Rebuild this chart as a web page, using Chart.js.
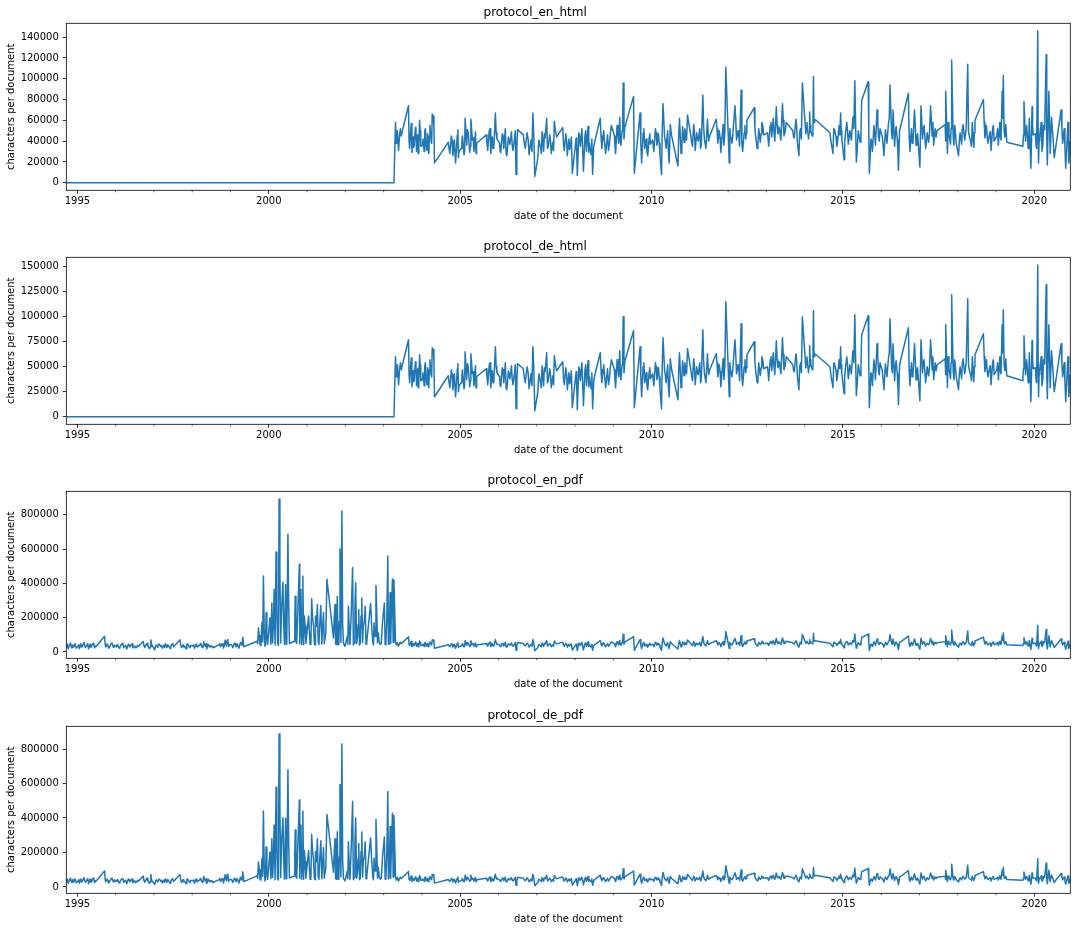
<!DOCTYPE html>
<html>
<head>
<meta charset="utf-8">
<title>characters per document</title>
<script src="https://cdn.jsdelivr.net/npm/chart.js@4.4.0/dist/chart.umd.min.js"></script>
<style>
  html, body { margin: 0; padding: 0; background: #fff; overflow: hidden; }
  #wrap { position: relative; width: 1077px; height: 931px; overflow: hidden; }
  #wrap canvas { position: absolute; left: 0; }
</style>
</head>
<body>
<div id="wrap">
  <canvas id="c0" width="1077" height="234" style="top:0px"></canvas>
  <canvas id="c1" width="1077" height="234" style="top:234.4px"></canvas>
  <canvas id="c2" width="1077" height="234" style="top:468.4px"></canvas>
  <canvas id="c3" width="1077" height="234" style="top:703.4px"></canvas>
</div>
<script>
// document dates as decimal years
// pdf only (the html text is empty before spring 2003)
const preDates = [
  1994.71, 1994.73, 1994.76, 1994.79, 1994.82, 1994.85, 1994.88, 1994.91, 1994.94, 1994.97,
  1995.02, 1995.05, 1995.09, 1995.13, 1995.17, 1995.21, 1995.25, 1995.29, 1995.33, 1995.37, 1995.41, 1995.45, 1995.49, 1995.71, 1995.74, 1995.78, 1995.82, 1995.86, 1995.90, 1995.94, 1995.97,
  1996.01, 1996.05, 1996.09, 1996.13, 1996.17, 1996.21, 1996.25, 1996.29, 1996.33, 1996.37, 1996.41, 1996.45, 1996.50, 1996.55, 1996.59, 1996.72, 1996.76, 1996.80, 1996.84, 1996.88, 1996.92, 1996.95,
  1997.02, 1997.06, 1997.10, 1997.14, 1997.18, 1997.22, 1997.26, 1997.30, 1997.34, 1997.38, 1997.42, 1997.46, 1997.51, 1997.68, 1997.72, 1997.76, 1997.80, 1997.84, 1997.88, 1997.92, 1997.96,
  1998.02, 1998.06, 1998.10, 1998.14, 1998.18, 1998.22, 1998.26, 1998.30, 1998.34, 1998.38, 1998.42, 1998.46, 1998.50, 1998.54, 1998.70, 1998.74, 1998.78, 1998.82, 1998.86, 1998.89, 1998.93, 1998.97,
  1999.02, 1999.06, 1999.10, 1999.14, 1999.18, 1999.22, 1999.26, 1999.30, 1999.32, 1999.35, 1999.69, 1999.73, 1999.77, 1999.82, 1999.86, 1999.90, 1999.93, 1999.97,
  2000.03, 2000.08, 2000.10, 2000.14, 2000.19, 2000.23, 2000.27, 2000.31, 2000.37, 2000.41, 2000.44, 2000.47, 2000.50, 2000.54, 2000.67, 2000.69, 2000.73, 2000.80, 2000.82, 2000.84, 2000.86, 2000.89, 2000.93, 2000.97,
  2001.04, 2001.08, 2001.12, 2001.17, 2001.19, 2001.22, 2001.27, 2001.31, 2001.36, 2001.41, 2001.45, 2001.52, 2001.69, 2001.73, 2001.76, 2001.79, 2001.83, 2001.86, 2001.91, 2001.95, 2001.99,
  2002.05, 2002.08, 2002.12, 2002.19, 2002.23, 2002.27, 2002.32, 2002.35, 2002.39, 2002.43, 2002.47, 2002.52, 2002.56, 2002.66, 2002.72, 2002.75, 2002.80, 2002.84, 2002.86, 2002.91, 2002.97,
  2003.02, 2003.06, 2003.11, 2003.14, 2003.17, 2003.20, 2003.23, 2003.27
];
// more pdf-only sittings, same period
const preExtraDates = [
  1994.745, 1994.805, 1994.865, 1994.925,
  1995.035, 1995.11, 1995.19, 1995.27, 1995.35, 1995.43, 1995.475, 1995.725, 1995.80, 1995.88, 1995.955,
  1996.03, 1996.11, 1996.19, 1996.27, 1996.35, 1996.43, 1996.525, 1996.57, 1996.74, 1996.82, 1996.90, 1996.935,
  1997.04, 1997.12, 1997.20, 1997.28, 1997.36, 1997.44, 1997.49, 1997.70, 1997.78, 1997.86, 1997.94,
  1998.04, 1998.12, 1998.20, 1998.28, 1998.36, 1998.44, 1998.52, 1998.72, 1998.80, 1998.875, 1998.95,
  1999.04, 1999.12, 1999.20, 1999.28, 1999.71, 1999.75, 1999.795, 1999.84, 1999.88, 1999.915, 1999.95,
  2000.055, 2000.12, 2000.165, 2000.21, 2000.25, 2000.29, 2000.34, 2000.39, 2000.455, 2000.52, 2000.68, 2000.71, 2000.765, 2000.81, 2000.875, 2000.91, 2000.95,
  2001.06, 2001.10, 2001.145, 2001.21, 2001.245, 2001.29, 2001.335, 2001.385, 2001.43, 2001.49, 2001.71, 2001.745, 2001.775, 2001.81, 2001.845, 2001.885, 2001.93, 2001.97,
  2002.065, 2002.10, 2002.155, 2002.21, 2002.25, 2002.295, 2002.335, 2002.37, 2002.41, 2002.45, 2002.495, 2002.54, 2002.69, 2002.735, 2002.775, 2002.82, 2002.885, 2002.94,
  2003.04, 2003.085, 2003.125, 2003.155, 2003.185, 2003.215, 2003.25
];
// shared by all four series
const dates = [
  2003.31, 2003.33, 2003.36, 2003.39, 2003.42, 2003.46, 2003.65, 2003.68, 2003.71, 2003.74, 2003.77, 2003.80, 2003.83, 2003.86, 2003.89, 2003.92, 2003.94, 2003.97,
  2004.03, 2004.06, 2004.09, 2004.12, 2004.15, 2004.18, 2004.21, 2004.24, 2004.27, 2004.30, 2004.33, 2004.69, 2004.73, 2004.77, 2004.81, 2004.85, 2004.88, 2004.91, 2004.94, 2004.97,
  2005.03, 2005.06, 2005.10, 2005.13, 2005.17, 2005.21, 2005.25, 2005.28, 2005.32, 2005.36, 2005.40, 2005.43, 2005.68, 2005.72, 2005.76, 2005.80, 2005.84, 2005.88, 2005.92, 2005.96,
  2006.03, 2006.06, 2006.10, 2006.14, 2006.18, 2006.22, 2006.26, 2006.30, 2006.34, 2006.38, 2006.42, 2006.46, 2006.50, 2006.65, 2006.70, 2006.75, 2006.80, 2006.85, 2006.90, 2006.95,
  2007.03, 2007.06, 2007.10, 2007.14, 2007.18, 2007.22, 2007.26, 2007.30, 2007.34, 2007.38, 2007.42, 2007.46, 2007.52, 2007.68, 2007.72, 2007.76, 2007.80, 2007.84, 2007.88, 2007.93,
  2008.03, 2008.06, 2008.10, 2008.14, 2008.18, 2008.22, 2008.26, 2008.30, 2008.34, 2008.38, 2008.42, 2008.46, 2008.52, 2008.66, 2008.70, 2008.75, 2008.80, 2008.85, 2008.90, 2008.95,
  2009.03, 2009.06, 2009.10, 2009.14, 2009.17, 2009.20, 2009.23, 2009.26, 2009.30, 2009.53, 2009.55, 2009.70, 2009.74, 2009.78, 2009.82, 2009.86, 2009.90, 2009.94, 2009.97,
  2010.03, 2010.06, 2010.10, 2010.14, 2010.18, 2010.22, 2010.26, 2010.30, 2010.34, 2010.38, 2010.42, 2010.46, 2010.52, 2010.69, 2010.73, 2010.77, 2010.81, 2010.85, 2010.89, 2010.94,
  2011.03, 2011.07, 2011.10, 2011.14, 2011.18, 2011.22, 2011.26, 2011.30, 2011.34, 2011.38, 2011.42, 2011.46, 2011.52, 2011.69, 2011.73, 2011.77, 2011.81, 2011.85, 2011.89, 2011.94,
  2012.03, 2012.06, 2012.10, 2012.14, 2012.18, 2012.22, 2012.26, 2012.30, 2012.34, 2012.38, 2012.42, 2012.46, 2012.49, 2012.68, 2012.72, 2012.76, 2012.80, 2012.84, 2012.88, 2012.93,
  2013.03, 2013.06, 2013.10, 2013.14, 2013.18, 2013.22, 2013.26, 2013.30, 2013.34, 2013.38, 2013.42, 2013.46, 2013.52, 2013.69, 2013.73, 2013.77, 2013.81, 2013.85, 2013.89, 2013.94,
  2014.03, 2014.06, 2014.10, 2014.13, 2014.16, 2014.20, 2014.23, 2014.26, 2014.30, 2014.66, 2014.70, 2014.74, 2014.78, 2014.82, 2014.86, 2014.90, 2014.94, 2014.97,
  2015.03, 2015.06, 2015.10, 2015.14, 2015.18, 2015.22, 2015.26, 2015.31, 2015.35, 2015.40, 2015.45, 2015.49, 2015.66, 2015.69, 2015.73, 2015.77, 2015.81, 2015.85, 2015.89, 2015.93, 2015.97,
  2016.03, 2016.07, 2016.11, 2016.15, 2016.19, 2016.23, 2016.27, 2016.31, 2016.35, 2016.39, 2016.42, 2016.45, 2016.48, 2016.71, 2016.75, 2016.79, 2016.83, 2016.87, 2016.91, 2016.95,
  2017.01, 2017.04, 2017.08, 2017.12, 2017.16, 2017.20, 2017.24, 2017.29, 2017.33, 2017.37, 2017.41, 2017.46, 2017.67, 2017.69, 2017.73, 2017.77, 2017.81, 2017.84, 2017.88, 2017.92, 2017.96,
  2018.02, 2018.06, 2018.10, 2018.14, 2018.18, 2018.22, 2018.26, 2018.30, 2018.34, 2018.38, 2018.42, 2018.45, 2018.67, 2018.71, 2018.75, 2018.79, 2018.83, 2018.87, 2018.91, 2018.95,
  2019.02, 2019.06, 2019.10, 2019.13, 2019.16, 2019.19, 2019.23, 2019.28, 2019.70, 2019.73, 2019.77, 2019.80, 2019.84, 2019.87, 2019.91, 2019.94, 2019.97,
  2020.03, 2020.06, 2020.09, 2020.11, 2020.14, 2020.18, 2020.22, 2020.27, 2020.31, 2020.34, 2020.38, 2020.45, 2020.52, 2020.70, 2020.74, 2020.78, 2020.82, 2020.86, 2020.90, 2020.94
];
// further sittings of the same sessions, shared by all four series
const extraDates = [
  2003.345, 2003.44, 2003.665, 2003.725, 2003.785, 2003.845, 2003.905, 2003.955,
  2004.015, 2004.075, 2004.135, 2004.195, 2004.255, 2004.315, 2004.71, 2004.79, 2004.865, 2004.925, 2004.955,
  2005.045, 2005.115, 2005.19, 2005.265, 2005.34, 2005.415, 2005.70, 2005.78, 2005.86, 2005.94,
  2006.045, 2006.12, 2006.20, 2006.28, 2006.36, 2006.44, 2006.48, 2006.675, 2006.775, 2006.875, 2006.925,
  2007.045, 2007.12, 2007.20, 2007.28, 2007.36, 2007.44, 2007.49, 2007.70, 2007.78, 2007.86, 2007.905,
  2008.045, 2008.12, 2008.20, 2008.28, 2008.36, 2008.44, 2008.49, 2008.68, 2008.775, 2008.875, 2008.925,
  2009.045, 2009.12, 2009.185, 2009.245, 2009.28, 2009.72, 2009.80, 2009.88, 2009.955,
  2010.045, 2010.12, 2010.20, 2010.28, 2010.36, 2010.44, 2010.49, 2010.71, 2010.79, 2010.87, 2010.915,
  2011.05, 2011.12, 2011.20, 2011.28, 2011.36, 2011.44, 2011.49, 2011.71, 2011.79, 2011.87, 2011.915,
  2012.045, 2012.12, 2012.20, 2012.28, 2012.36, 2012.44, 2012.475, 2012.70, 2012.78, 2012.86, 2012.905,
  2013.045, 2013.12, 2013.20, 2013.28, 2013.36, 2013.44, 2013.49, 2013.71, 2013.79, 2013.87, 2013.915,
  2014.045, 2014.115, 2014.145, 2014.215, 2014.245, 2014.68, 2014.76, 2014.84, 2014.92, 2014.955,
  2015.045, 2015.12, 2015.20, 2015.285, 2015.375, 2015.47, 2015.675, 2015.75, 2015.83, 2015.91, 2015.95,
  2016.05, 2016.13, 2016.21, 2016.29, 2016.37, 2016.435, 2016.73, 2016.81, 2016.89, 2016.93,
  2017.025, 2017.10, 2017.18, 2017.265, 2017.35, 2017.435, 2017.68, 2017.75, 2017.825, 2017.90, 2017.94,
  2018.04, 2018.12, 2018.20, 2018.28, 2018.36, 2018.435, 2018.69, 2018.77, 2018.85, 2018.93,
  2019.04, 2019.115, 2019.175, 2019.21, 2019.255, 2019.715, 2019.785, 2019.855, 2019.925, 2019.955,
  2020.045, 2020.10, 2020.125, 2020.20, 2020.245, 2020.325, 2020.415, 2020.485, 2020.72, 2020.80, 2020.88, 2020.925
];

// values in thousands of characters per document
const htmlPre = [0, 0]; // first and last pre-2003 date: no html text yet

const enHtml = [
  58, 38, 50, 31, 47, 45, 74, 33, 51, 29, 44, 36, 53, 30, 46, 38, 60, 35,
  42, 30, 52, 34, 47, 28, 55, 40, 66, 64, 19, 39, 28, 45, 26, 41, 19, 37, 51, 30,
  33, 45, 27, 62, 36, 48, 29, 61, 41, 30, 49, 38, 46, 31, 50, 28, 44, 35, 67, 42,
  38, 29, 47, 33, 52, 26, 44, 37, 49, 31, 42, 8, 51, 46, 33, 48, 27, 41, 67, 6,
  24, 41, 33, 49, 30, 43, 62, 35, 46, 28, 39, 59, 44, 53, 31, 47, 26, 42, 36, 9,
  43, 7, 48, 35, 52, 11, 45, 30, 54, 38, 27, 8, 40, 62, 33, 50, 28, 46, 37, 55,
  45, 28, 55, 38, 63, 36, 50, 96, 53, 83, 9, 67, 19, 48, 33, 42, 26, 44, 37,
  41, 30, 52, 36, 47, 27, 8, 76, 44, 33, 50, 19, 46, 16, 62, 28, 54, 39, 47, 65,
  44, 35, 56, 31, 48, 40, 52, 37, 84, 42, 33, 61, 45, 61, 38, 50, 29, 47, 36, 111,
  19, 46, 38, 55, 74, 41, 50, 35, 89, 30, 48, 42, 60, 72, 44, 33, 52, 39, 58, 46,
  48, 35, 55, 44, 62, 40, 73, 47, 53, 41, 76, 45, 58, 50, 43, 61, 39, 26, 52, 96,
  47, 58, 42, 68, 50, 45, 102, 61, 60, 48, 37, 28, 51, 44, 39, 55, 67, 42,
  22, 45, 58, 37, 50, 41, 63, 98, 20, 50, 39, 79, 97, 9, 42, 30, 55, 36, 70, 44, 52,
  44, 26, 51, 38, 57, 94, 48, 70, 35, 54, 41, 12, 50, 86, 30, 52, 40, 70, 36, 47,
  15, 74, 42, 55, 33, 48, 39, 74, 45, 36, 52, 50, 56, 88, 28, 47, 37, 118, 44, 55, 38,
  26, 48, 37, 56, 41, 52, 114, 45, 39, 58, 34, 60, 80, 43, 55, 38, 47, 31, 52, 40,
  45, 36, 58, 41, 88, 103, 44, 39, 35, 78, 40, 55, 33, 62, 14, 73, 46,
  47, 33, 146, 19, 42, 58, 36, 51, 123, 17, 88, 63, 24, 70, 38, 52, 14, 44, 19, 40
];
const enHtmlExtra = [
  44, 52, 40, 57, 34, 49, 28, 50,
  36, 49, 31, 45, 38, 52, 33, 40, 29, 46, 24,
  39, 30, 51, 35, 43, 28, 38, 52, 33, 48,
  30, 45, 28, 40, 36, 50, 34, 38, 42, 30, 45,
  36, 28, 47, 33, 40, 31, 50, 37, 41, 32, 44,
  30, 45, 33, 50, 29, 42, 35, 45, 38, 31, 48,
  35, 48, 40, 58, 42, 38, 52, 30, 47,
  35, 48, 38, 52, 40, 30, 56, 45, 33, 52, 41,
  38, 50, 42, 33, 55, 46, 40, 52, 43, 56, 48,
  52, 44, 60, 45, 38, 55, 47, 53, 38, 47, 55,
  42, 58, 48, 55, 46, 60, 49, 44, 55, 48, 42,
  52, 48, 55, 47, 58, 42, 52, 35, 46, 50,
  38, 50, 45, 52, 33, 48, 52, 40, 47, 58, 40,
  36, 45, 62, 42, 48, 30, 45, 38, 55, 44,
  45, 52, 38, 50, 58, 44, 40, 58, 52, 36, 48,
  40, 52, 46, 50, 35, 48, 58, 44, 49, 55,
  52, 44, 62, 50, 56, 46, 52, 42, 38, 55,
  36, 52, 40, 30, 55, 42, 28, 45, 52, 34, 58, 30
];

const deHtml = [
  60, 40, 52, 32, 49, 47, 77, 34, 53, 30, 46, 37, 55, 31, 48, 40, 62, 36,
  44, 31, 54, 35, 49, 29, 57, 42, 69, 67, 20, 41, 29, 47, 27, 43, 20, 38, 53, 31,
  34, 47, 28, 65, 37, 50, 30, 63, 43, 31, 51, 40, 48, 32, 52, 29, 46, 36, 70, 44,
  40, 30, 49, 34, 54, 27, 46, 38, 51, 32, 44, 8, 53, 48, 34, 50, 28, 43, 70, 6,
  25, 43, 34, 51, 31, 45, 64, 36, 48, 29, 41, 61, 46, 55, 32, 49, 27, 44, 37, 9,
  45, 7, 50, 36, 54, 11, 47, 31, 56, 40, 28, 8, 42, 64, 34, 52, 29, 48, 38, 57,
  47, 29, 57, 40, 66, 37, 52, 100, 55, 86, 9, 70, 20, 50, 34, 44, 27, 46, 38,
  43, 31, 54, 37, 49, 28, 8, 79, 46, 34, 52, 20, 48, 17, 64, 29, 56, 41, 49, 68,
  46, 36, 58, 32, 50, 42, 54, 38, 87, 44, 34, 63, 47, 63, 40, 52, 30, 49, 37, 115,
  20, 48, 40, 57, 77, 43, 52, 36, 93, 31, 50, 44, 62, 75, 46, 34, 54, 41, 60, 48,
  50, 36, 57, 46, 64, 42, 76, 49, 55, 43, 79, 47, 60, 52, 45, 63, 41, 27, 54, 100,
  49, 60, 44, 71, 52, 47, 106, 63, 62, 50, 38, 29, 53, 46, 41, 57, 70, 44,
  23, 47, 60, 38, 52, 43, 66, 102, 21, 52, 41, 82, 101, 9, 44, 31, 57, 37, 73, 46, 54,
  46, 27, 53, 40, 59, 98, 50, 73, 36, 56, 43, 12, 52, 89, 31, 54, 42, 73, 37, 49,
  16, 77, 44, 57, 34, 50, 41, 77, 47, 37, 54, 52, 58, 92, 29, 49, 38, 122, 46, 57, 40,
  27, 50, 38, 58, 43, 54, 118, 47, 41, 60, 35, 62, 83, 45, 57, 40, 49, 32, 54, 42,
  47, 37, 60, 43, 92, 107, 46, 41, 36, 81, 42, 57, 34, 64, 15, 76, 48,
  49, 34, 152, 20, 44, 60, 37, 53, 132, 18, 92, 66, 25, 73, 40, 54, 15, 46, 20, 42
];
const deHtmlExtra = [
  46, 54, 42, 59, 35, 51, 29, 52,
  37, 51, 32, 47, 40, 54, 34, 42, 30, 48, 25,
  41, 31, 53, 36, 45, 29, 40, 54, 34, 50,
  31, 47, 29, 42, 37, 52, 35, 40, 44, 31, 47,
  37, 29, 49, 34, 42, 32, 52, 38, 43, 33, 46,
  31, 47, 34, 52, 30, 44, 36, 47, 40, 32, 50,
  36, 50, 42, 60, 44, 40, 54, 31, 49,
  36, 50, 40, 54, 42, 31, 58, 47, 34, 54, 43,
  40, 52, 44, 34, 57, 48, 42, 54, 45, 58, 50,
  54, 46, 62, 47, 40, 57, 49, 55, 40, 49, 57,
  44, 60, 50, 57, 48, 62, 51, 46, 57, 50, 44,
  54, 50, 57, 49, 60, 44, 54, 36, 48, 52,
  40, 52, 47, 54, 34, 50, 54, 42, 49, 60, 42,
  37, 47, 64, 44, 50, 31, 47, 40, 57, 46,
  47, 54, 40, 52, 60, 46, 42, 60, 54, 37, 50,
  42, 54, 48, 52, 36, 50, 60, 46, 51, 57,
  54, 46, 64, 52, 58, 48, 54, 44, 40, 57,
  37, 54, 42, 31, 57, 44, 29, 47, 54, 35, 60, 31
];

const enPdfPre = [
  28, 45, 19, 38, 52, 24, 41, 30, 48, 22,
  35, 20, 47, 31, 55, 26, 40, 18, 44, 33, 50, 24, 32, 91, 29, 46, 21, 38, 53, 27, 40,
  30, 43, 22, 36, 49, 25, 38, 17, 45, 29, 41, 23, 34, 27, 32, 61, 26, 44, 35, 19, 70, 38,
  12, 40, 27, 46, 31, 22, 39, 48, 26, 35, 20, 42, 30, 70, 25, 41, 33, 18, 47, 29, 37,
  34, 21, 45, 29, 38, 50, 26, 58, 33, 19, 44, 28, 36, 24, 41, 30, 47, 22, 68, 35, 72, 40,
  43, 25, 51, 30, 46, 22, 55, 38, 86, 30, 62, 140, 43, 170, 443, 33, 228, 43,
  199, 286, 52, 364, 583, 52, 893, 52, 407, 43, 394, 52, 686, 49, 62, 325, 49, 511, 170, 364, 43, 443, 209, 49,
  209, 43, 310, 150, 49, 209, 277, 43, 271, 154, 49, 424, 82, 277, 43, 325, 52, 600, 822, 52, 33,
  90, 267, 43, 492, 52, 404, 90, 248, 52, 315, 150, 267, 60, 282, 52, 170, 388, 52, 111, 43, 170,
  286, 49, 559, 62, 345, 209, 425, 420
];
const enPdfPreExtra = [
  36, 47, 26, 39,
  42, 28, 38, 49, 26, 41, 35, 45, 33, 47, 30,
  37, 27, 44, 31, 40, 47, 24, 38, 35, 50, 28, 45,
  33, 45, 38, 26, 42, 31, 49, 38, 28, 43, 24,
  40, 32, 44, 27, 47, 36, 30, 49, 38, 52, 31,
  36, 48, 33, 45, 48, 95, 38, 60, 120, 45, 88,
  45, 150, 40, 240, 38, 470, 280, 160, 45, 260, 180, 60, 290, 48, 120, 42, 150,
  120, 46, 200, 40, 150, 60, 180, 45, 230, 110, 200, 48, 140, 42, 180, 55, 160, 40,
  45, 140, 230, 40, 260, 48, 160, 40, 210, 55, 180, 45, 140, 40, 90, 240, 60, 50,
  42, 200, 45, 160, 48, 300, 55
];
const enPdf = [
  62, 41, 54, 34, 50, 48, 88, 36, 55, 31, 47, 39, 57, 33, 49, 41, 64, 38,
  45, 32, 56, 36, 50, 30, 59, 43, 71, 68, 21, 42, 30, 48, 28, 44, 21, 40, 55, 32,
  35, 48, 29, 66, 39, 51, 31, 65, 44, 32, 52, 41, 49, 33, 54, 30, 47, 37, 72, 45,
  41, 31, 50, 35, 56, 28, 47, 40, 52, 33, 45, 9, 55, 49, 35, 51, 29, 44, 72, 7,
  26, 44, 35, 52, 32, 46, 66, 37, 49, 30, 42, 63, 47, 57, 33, 50, 28, 45, 39, 10,
  46, 8, 51, 37, 56, 12, 48, 32, 58, 41, 29, 9, 43, 66, 35, 54, 30, 49, 40, 59,
  48, 30, 59, 41, 67, 39, 54, 103, 57, 89, 10, 72, 20, 51, 35, 45, 28, 47, 40,
  44, 32, 56, 39, 50, 29, 9, 81, 47, 35, 54, 20, 49, 17, 66, 30, 58, 42, 50, 70,
  47, 37, 60, 33, 51, 43, 56, 40, 90, 45, 35, 65, 48, 65, 41, 54, 31, 50, 39, 119,
  20, 49, 41, 59, 79, 44, 54, 37, 95, 32, 51, 45, 64, 77, 47, 35, 56, 42, 62, 49,
  51, 37, 59, 47, 66, 43, 78, 50, 57, 44, 81, 48, 62, 54, 46, 65, 42, 28, 56, 103,
  50, 62, 45, 73, 54, 48, 109, 65, 64, 51, 40, 30, 55, 47, 42, 59, 72, 45,
  24, 48, 62, 40, 54, 44, 67, 105, 21, 54, 42, 85, 104, 10, 45, 32, 59, 39, 75, 47, 56,
  47, 28, 55, 41, 61, 101, 51, 75, 37, 58, 44, 13, 54, 92, 32, 56, 43, 75, 39, 50,
  16, 79, 45, 59, 35, 51, 42, 79, 48, 39, 56, 54, 60, 94, 30, 50, 40, 128, 47, 59, 41,
  28, 51, 40, 60, 44, 56, 122, 48, 42, 62, 36, 64, 86, 46, 59, 41, 50, 33, 56, 43,
  48, 39, 62, 44, 94, 110, 47, 42, 37, 83, 43, 59, 35, 66, 15, 78, 49,
  50, 35, 156, 20, 45, 62, 39, 55, 131, 18, 94, 67, 26, 75, 41, 56, 15, 47, 20, 43
];
const enPdfExtra = [
  47, 56, 43, 61, 36, 52, 30, 54,
  38, 52, 33, 48, 41, 56, 35, 43, 31, 49, 26,
  42, 32, 55, 37, 46, 30, 41, 56, 35, 51,
  32, 48, 30, 43, 38, 54, 36, 41, 45, 32, 48,
  38, 30, 50, 35, 43, 33, 54, 40, 44, 34, 47,
  32, 48, 35, 54, 31, 45, 37, 48, 41, 33, 51,
  37, 51, 43, 62, 45, 41, 56, 32, 50,
  37, 51, 41, 56, 43, 32, 60, 48, 35, 56, 44,
  41, 54, 45, 35, 59, 49, 43, 56, 46, 60, 51,
  56, 47, 64, 48, 41, 59, 50, 57, 41, 50, 59,
  45, 62, 51, 59, 49, 64, 52, 47, 59, 51, 45,
  56, 51, 59, 50, 62, 45, 56, 37, 49, 54,
  41, 54, 48, 56, 35, 51, 56, 43, 50, 62, 43,
  39, 48, 66, 45, 51, 32, 48, 41, 59, 47,
  48, 56, 41, 54, 62, 47, 43, 62, 56, 39, 51,
  43, 56, 49, 54, 37, 51, 62, 47, 52, 59,
  56, 47, 66, 54, 60, 49, 56, 45, 41, 59,
  39, 56, 43, 32, 59, 45, 30, 48, 56, 36, 62, 32
];

const dePdfPre = [
  30, 44, 20, 39, 50, 25, 43, 29, 47, 24,
  36, 22, 46, 33, 54, 27, 42, 19, 45, 31, 51, 25, 34, 93, 30, 45, 22, 40, 52, 28, 41,
  31, 42, 23, 38, 48, 26, 39, 18, 46, 30, 40, 24, 35, 28, 33, 63, 27, 45, 36, 20, 72, 37,
  13, 41, 28, 45, 32, 23, 40, 47, 27, 36, 21, 43, 31, 72, 26, 42, 34, 19, 46, 30, 38,
  35, 22, 46, 30, 39, 49, 27, 60, 34, 20, 45, 29, 37, 25, 42, 31, 48, 23, 70, 36, 74, 41,
  44, 26, 50, 31, 47, 23, 56, 39, 88, 31, 64, 145, 44, 165, 440, 35, 232, 44,
  203, 280, 55, 360, 578, 50, 888, 54, 402, 45, 398, 50, 680, 52, 64, 330, 51, 505, 175, 360, 45, 440, 212, 51,
  212, 45, 305, 155, 51, 205, 280, 45, 268, 150, 51, 420, 85, 280, 45, 320, 54, 595, 830, 50, 35,
  92, 262, 45, 497, 54, 400, 93, 252, 50, 318, 147, 262, 62, 285, 54, 168, 392, 50, 114, 45, 168,
  290, 51, 553, 64, 350, 205, 428, 415
];
const dePdfPreExtra = [
  37, 46, 27, 40,
  43, 29, 39, 48, 27, 42, 36, 46, 34, 46, 31,
  38, 28, 45, 32, 41, 46, 25, 39, 36, 51, 29, 44,
  34, 44, 39, 27, 43, 32, 48, 39, 29, 44, 25,
  41, 33, 45, 28, 46, 37, 31, 50, 39, 54, 32,
  37, 47, 34, 46, 50, 98, 40, 62, 118, 47, 90,
  47, 155, 42, 235, 40, 465, 285, 158, 47, 255, 185, 62, 285, 50, 118, 44, 148,
  118, 48, 205, 42, 148, 62, 175, 47, 228, 112, 205, 50, 138, 44, 178, 57, 158, 42,
  47, 138, 235, 42, 255, 50, 165, 42, 205, 57, 178, 47, 145, 42, 92, 238, 62, 52,
  44, 205, 47, 158, 50, 295, 57
];
const dePdf = [
  64, 40, 56, 35, 51, 47, 90, 37, 56, 32, 48, 40, 58, 34, 50, 42, 66, 39,
  46, 33, 57, 37, 52, 31, 60, 44, 73, 70, 22, 43, 31, 49, 29, 45, 22, 41, 57, 33,
  36, 49, 30, 68, 40, 52, 32, 67, 45, 33, 54, 42, 50, 34, 55, 31, 48, 38, 74, 46,
  42, 32, 52, 36, 57, 29, 48, 41, 54, 34, 46, 9, 56, 50, 36, 52, 30, 45, 74, 7,
  27, 45, 36, 54, 33, 47, 68, 38, 50, 31, 43, 65, 48, 58, 34, 52, 29, 46, 40, 10,
  47, 8, 53, 38, 57, 12, 49, 33, 60, 42, 30, 9, 44, 68, 36, 55, 31, 50, 41, 61,
  49, 31, 61, 42, 69, 40, 55, 106, 58, 92, 10, 74, 21, 53, 36, 46, 29, 48, 41,
  45, 33, 57, 40, 52, 30, 9, 84, 48, 36, 55, 21, 50, 18, 68, 31, 60, 43, 52, 72,
  48, 38, 62, 34, 53, 44, 57, 41, 93, 46, 36, 67, 50, 67, 42, 55, 32, 52, 40, 123,
  21, 50, 42, 61, 82, 45, 55, 38, 98, 33, 53, 46, 66, 80, 48, 36, 58, 43, 64, 51,
  53, 38, 61, 48, 68, 44, 80, 52, 59, 45, 84, 50, 64, 55, 47, 67, 43, 29, 58, 106,
  52, 64, 46, 75, 55, 50, 112, 67, 66, 53, 41, 31, 57, 48, 43, 61, 74, 46,
  25, 50, 64, 41, 55, 45, 69, 108, 22, 55, 43, 87, 107, 10, 46, 33, 61, 40, 77, 48, 58,
  48, 29, 57, 42, 63, 104, 53, 77, 38, 60, 45, 13, 56, 95, 33, 58, 44, 77, 40, 52,
  17, 81, 46, 61, 36, 53, 43, 81, 50, 40, 58, 56, 62, 97, 31, 52, 41, 132, 48, 61, 42,
  29, 53, 41, 62, 45, 58, 126, 50, 43, 64, 37, 66, 89, 47, 61, 42, 52, 34, 58, 44,
  50, 40, 64, 45, 97, 114, 49, 43, 38, 86, 44, 61, 36, 68, 16, 81, 51,
  52, 36, 163, 21, 47, 64, 40, 57, 138, 19, 97, 69, 27, 78, 42, 58, 16, 49, 21, 44
];
const dePdfExtra = [
  48, 57, 44, 63, 37, 53, 31, 55,
  39, 54, 34, 49, 42, 57, 36, 44, 32, 50, 27,
  43, 33, 56, 38, 47, 31, 42, 57, 36, 52,
  33, 49, 31, 44, 39, 55, 37, 42, 46, 33, 49,
  39, 31, 52, 36, 44, 34, 55, 41, 45, 35, 48,
  33, 49, 36, 55, 32, 46, 38, 49, 42, 34, 52,
  38, 52, 44, 64, 46, 42, 57, 33, 51,
  38, 52, 42, 57, 44, 33, 62, 49, 36, 57, 45,
  42, 55, 46, 36, 60, 50, 44, 57, 47, 62, 52,
  57, 48, 66, 49, 42, 60, 51, 58, 42, 51, 60,
  46, 64, 52, 60, 50, 66, 53, 48, 60, 52, 46,
  57, 52, 60, 51, 64, 46, 57, 38, 50, 55,
  42, 55, 49, 57, 36, 52, 57, 44, 51, 64, 44,
  40, 49, 68, 46, 52, 33, 49, 42, 60, 48,
  49, 57, 42, 55, 64, 48, 44, 64, 57, 40, 52,
  44, 57, 50, 55, 38, 52, 64, 48, 53, 60,
  57, 48, 68, 55, 62, 50, 57, 46, 42, 60,
  40, 57, 44, 33, 60, 46, 31, 49, 57, 37, 64, 33
];

const titles = ["protocol_en_html", "protocol_de_html", "protocol_en_pdf", "protocol_de_pdf"];
const yearTicks = [1995, 2000, 2005, 2010, 2015, 2020];
const enHtmlTicks = [0, 20000, 40000, 60000, 80000, 100000, 120000, 140000];
const deHtmlTicks = [0, 25000, 50000, 75000, 100000, 125000, 150000];
const pdfTicks = [0, 200000, 400000, 600000, 800000];

const UNIT = 1000;

Chart.defaults.font.family = "'DejaVu Sans', sans-serif";
Chart.defaults.font.size = 10;
Chart.defaults.color = "#000";

function toPoints(xs, ys) {
  if (xs.length !== ys.length) console.warn("length mismatch", xs.length, ys.length);
  return xs.map((x, i) => ({ x: x, y: ys[i] * UNIT }));
}

function series() {
  const all = [].concat(...arguments);
  return all.sort((a, b) => a.x - b.x);
}

const htmlPreDates = [preDates[0], preDates[preDates.length - 1]];

const panels = [
  { id: "c0", title: titles[0], ticks: enHtmlTicks,
    points: series(toPoints(htmlPreDates, htmlPre), toPoints(dates, enHtml), toPoints(extraDates, enHtmlExtra)) },
  { id: "c1", title: titles[1], ticks: deHtmlTicks,
    points: series(toPoints(htmlPreDates, htmlPre), toPoints(dates, deHtml), toPoints(extraDates, deHtmlExtra)) },
  { id: "c2", title: titles[2], ticks: pdfTicks,
    points: series(toPoints(preDates, enPdfPre), toPoints(preExtraDates, enPdfPreExtra),
                   toPoints(dates, enPdf), toPoints(extraDates, enPdfExtra)) },
  { id: "c3", title: titles[3], ticks: pdfTicks,
    points: series(toPoints(preDates, dePdfPre), toPoints(preExtraDates, dePdfPreExtra),
                   toPoints(dates, dePdf), toPoints(extraDates, dePdfExtra)) }
];

// box around the axes + yearly minor ticks
const frame = {
  id: "frame",
  afterDatasetsDraw(chart) {
    const { ctx, chartArea: a, scales: { x } } = chart;
    ctx.save();
    ctx.strokeStyle = "#000";
    ctx.lineWidth = 0.6;
    ctx.beginPath();
    for (let yr = Math.ceil(x.min); yr <= x.max; yr++) {
      if (yearTicks.includes(yr)) continue;
      const px = x.getPixelForValue(yr);
      ctx.moveTo(px, a.bottom);
      ctx.lineTo(px, a.bottom + 2);
    }
    ctx.stroke();
    ctx.lineWidth = 0.8;
    ctx.strokeRect(a.left, a.top, a.right - a.left, a.bottom - a.top);
    ctx.restore();
  }
};

function createChart(p) {
  const ys = p.points.map((d) => d.y);
  const lo = Math.min(...ys);
  const hi = Math.max(...ys);
  const margin = (hi - lo) * 0.05;

  new Chart(document.getElementById(p.id), {
    type: "line",
    data: {
      datasets: [
        {
          data: p.points,
          borderColor: "#1f77b4",
          borderWidth: 1.5,
          borderJoinStyle: "round",
          pointRadius: 0,
          pointHoverRadius: 0,
          fill: false,
          tension: 0,
        },
      ],
    },
    options: {
      responsive: false,
      animation: false,
      events: [],
      layout: {
        padding: { top: 0, left: 0, right: 6.7, bottom: 0 },
      },
      scales: {
        x: {
          type: "linear",
          min: preDates[0],
          max: dates[dates.length - 1],
          afterBuildTicks: (s) => {
            s.ticks = yearTicks.map((v) => ({ value: v }));
          },
          afterFit: (s) => {
            s.height = 43.7;
          },
          grid: {
            drawOnChartArea: false,
            drawTicks: true,
            tickLength: 3.5,
            color: "#000",
            lineWidth: 0.8,
          },
          border: { display: false },
          ticks: {
            autoSkip: false,
            maxRotation: 0,
            padding: 2,
            callback: (v) => String(v),
          },
          title: {
            display: true,
            text: "date of the document",
            padding: { top: 0, bottom: 11.5 },
          },
        },
        y: {
          type: "linear",
          min: lo - margin,
          max: hi + margin,
          afterBuildTicks: (s) => {
            s.ticks = p.ticks.map((v) => ({ value: v }));
          },
          afterFit: (s) => {
            s.width = 66.3;
          },
          grid: {
            drawOnChartArea: false,
            drawTicks: true,
            tickLength: 3.5,
            color: "#000",
            lineWidth: 0.8,
          },
          border: { display: false },
          ticks: {
            padding: 4,
            callback: (v) => String(v),
          },
          title: {
            display: true,
            text: "characters per document",
            padding: { top: 5.5, bottom: 0 },
          },
        },
      },
      plugins: {
        legend: { display: false },
        tooltip: { enabled: false },
        title: {
          display: true,
          text: p.title,
          font: { size: 12, weight: "normal" },
          padding: { top: 5.3, bottom: 3.6 },
        },
      },
    },
    plugins: [frame],
  });
}

panels.forEach(createChart);
</script>
</body>
</html>
